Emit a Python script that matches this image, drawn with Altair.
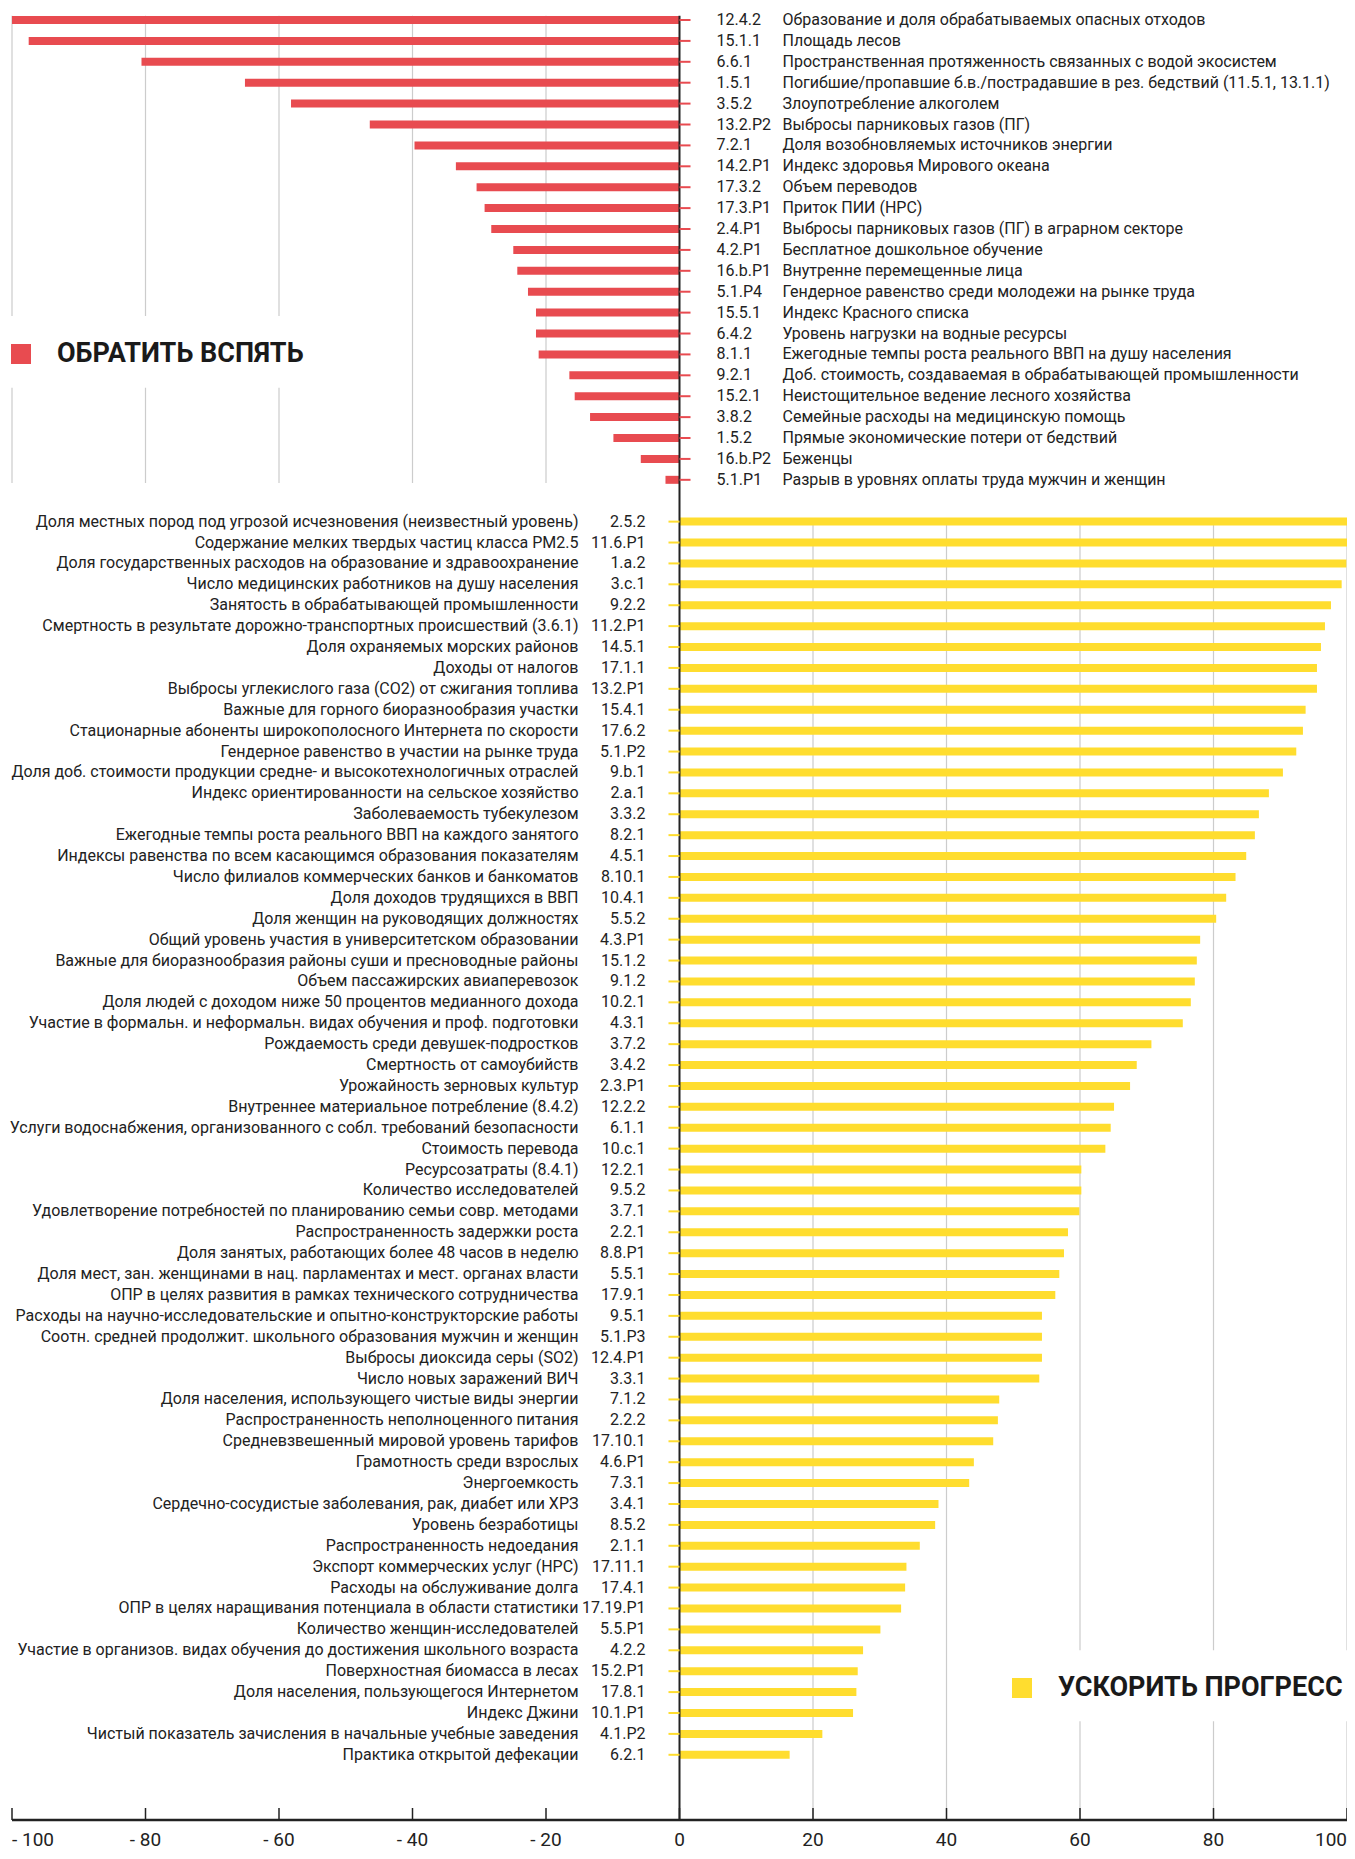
import altair as alt
import pandas as pd

RED = "#E84B50"
YELLOW = "#FFDD2F"
TEXT = "#222222"

top_codes = ["12.4.2", "15.1.1", "6.6.1", "1.5.1", "3.5.2", "13.2.P2", "7.2.1", "14.2.P1",
             "17.3.2", "17.3.P1", "2.4.P1", "4.2.P1", "16.b.P1", "5.1.P4", "15.5.1", "6.4.2",
             "8.1.1", "9.2.1", "15.2.1", "3.8.2", "1.5.2", "16.b.P2", "5.1.P1"]
top_names = [
    "Образование и доля обрабатываемых опасных отходов",
    "Площадь лесов",
    "Пространственная протяженность связанных с водой экосистем",
    "Погибшие/пропавшие б.в./пострадавшие в рез. бедствий (11.5.1, 13.1.1)",
    "Злоупотребление алкоголем",
    "Выбросы парниковых газов (ПГ)",
    "Доля возобновляемых источников энергии",
    "Индекс здоровья Мирового океана",
    "Объем переводов",
    "Приток ПИИ (НРС)",
    "Выбросы парниковых газов (ПГ) в аграрном секторе",
    "Бесплатное дошкольное обучение",
    "Внутренне перемещенные лица",
    "Гендерное равенство среди молодежи на рынке труда",
    "Индекс Красного списка",
    "Уровень нагрузки на водные ресурсы",
    "Ежегодные темпы роста реального ВВП на душу населения",
    "Доб. стоимость, создаваемая в обрабатывающей промышленности",
    "Неистощительное ведение лесного хозяйства",
    "Семейные расходы на медицинскую помощь",
    "Прямые экономические потери от бедствий",
    "Беженцы",
    "Разрыв в уровнях оплаты труда мужчин и женщин",
]
top_values = [-100, -97.5, -80.6, -65.1, -58.2, -46.4, -39.7, -33.5, -30.4, -29.2, -28.2,
              -24.9, -24.3, -22.7, -21.5, -21.5, -21.1, -16.5, -15.7, -13.4, -9.9, -5.8, -2.1]

bot_codes = ["2.5.2", "11.6.P1", "1.a.2", "3.c.1", "9.2.2", "11.2.P1", "14.5.1", "17.1.1",
             "13.2.P1", "15.4.1", "17.6.2", "5.1.P2", "9.b.1", "2.a.1", "3.3.2", "8.2.1",
             "4.5.1", "8.10.1", "10.4.1", "5.5.2", "4.3.P1", "15.1.2", "9.1.2", "10.2.1",
             "4.3.1", "3.7.2", "3.4.2", "2.3.P1", "12.2.2", "6.1.1", "10.c.1", "12.2.1",
             "9.5.2", "3.7.1", "2.2.1", "8.8.P1", "5.5.1", "17.9.1", "9.5.1", "5.1.P3",
             "12.4.P1", "3.3.1", "7.1.2", "2.2.2", "17.10.1", "4.6.P1", "7.3.1", "3.4.1",
             "8.5.2", "2.1.1", "17.11.1", "17.4.1", "17.19.P1", "5.5.P1", "4.2.2", "15.2.P1",
             "17.8.1", "10.1.P1", "4.1.P2", "6.2.1"]
bot_names = [
    "Доля местных пород под угрозой исчезновения (неизвестный уровень)",
    "Содержание мелких твердых частиц класса PM2.5",
    "Доля государственных расходов на образование и здравоохранение",
    "Число медицинских работников на душу населения",
    "Занятость в обрабатывающей промышленности",
    "Смертность в результате дорожно-транспортных происшествий (3.6.1)",
    "Доля охраняемых морских районов",
    "Доходы от налогов",
    "Выбросы углекислого газа (CO2) от сжигания топлива",
    "Важные для горного биоразнообразия участки",
    "Стационарные абоненты широкополосного Интернета по скорости",
    "Гендерное равенство в участии на рынке труда",
    "Доля доб. стоимости продукции средне- и высокотехнологичных отраслей",
    "Индекс ориентированности на сельское хозяйство",
    "Заболеваемость тубекулезом",
    "Ежегодные темпы роста реального ВВП на каждого занятого",
    "Индексы равенства по всем касающимся образования показателям",
    "Число филиалов коммерческих банков и банкоматов",
    "Доля доходов трудящихся в ВВП",
    "Доля женщин на руководящих должностях",
    "Общий уровень участия в университетском образовании",
    "Важные для биоразнообразия районы суши и пресноводные районы",
    "Объем пассажирских авиаперевозок",
    "Доля людей с доходом ниже 50 процентов медианного дохода",
    "Участие в формальн. и неформальн. видах обучения и проф. подготовки",
    "Рождаемость среди девушек-подростков",
    "Смертность от самоубийств",
    "Урожайность зерновых культур",
    "Внутреннее материальное потребление (8.4.2)",
    "Услуги водоснабжения, организованного с собл. требований безопасности",
    "Стоимость перевода",
    "Ресурсозатраты (8.4.1)",
    "Количество исследователей",
    "Удовлетворение потребностей по планированию семьи совр. методами",
    "Распространенность задержки роста",
    "Доля занятых, работающих более 48 часов в неделю",
    "Доля мест, зан. женщинами в нац. парламентах и мест. органах власти",
    "ОПР в целях развития в рамках технического сотрудничества",
    "Расходы на научно-исследовательские и опытно-конструкторские работы",
    "Соотн. средней продолжит. школьного образования мужчин и женщин",
    "Выбросы диоксида серы (SO2)",
    "Число новых заражений ВИЧ",
    "Доля населения, использующего чистые виды энергии",
    "Распространенность неполноценного питания",
    "Средневзвешенный мировой уровень тарифов",
    "Грамотность среди взрослых",
    "Энергоемкость",
    "Сердечно-сосудистые заболевания, рак, диабет или ХРЗ",
    "Уровень безработицы",
    "Распространенность недоедания",
    "Экспорт коммерческих услуг (НРС)",
    "Расходы на обслуживание долга",
    "ОПР в целях наращивания потенциала в области статистики",
    "Количество женщин-исследователей",
    "Участие в организов. видах обучения до достижения школьного возраста",
    "Поверхностная биомасса в лесах",
    "Доля населения, пользующегося Интернетом",
    "Индекс Джини",
    "Чистый показатель зачисления в начальные учебные заведения",
    "Практика открытой дефекации",
]
bot_values = [100, 100, 99.9, 99.2, 97.6, 96.7, 96.1, 95.5, 95.5, 93.8, 93.4, 92.4, 90.4, 88.3,
              86.8, 86.2, 84.9, 83.3, 81.9, 80.4, 78.0, 77.5, 77.2, 76.6, 75.4, 70.7, 68.5,
              67.5, 65.1, 64.6, 63.8, 60.2, 60.2, 59.9, 58.2, 57.6, 56.9, 56.3, 54.3, 54.3,
              54.3, 53.9, 47.9, 47.7, 47.0, 44.1, 43.4, 38.8, 38.3, 36.0, 34.0, 33.8, 33.2,
              30.1, 27.5, 26.7, 26.5, 26.0, 21.4, 16.5]

legend_labels = ["ОБРАТИТЬ ВСПЯТЬ", "УСКОРИТЬ ПРОГРЕСС"]
axis_ticks = [-100, -80, -60, -40, -20, 0, 20, 40, 60, 80, 100]
grid_neg = [-100, -80, -60, -40, -20]
grid_pos = [20, 40, 60, 80, 100]

n_top = len(top_codes)
rows = []
for i, (c, n, v) in enumerate(zip(top_codes, top_names, top_values)):
    rows.append({"row": i, "code": c, "name": n, "value": v, "group": "rev"})
for j, (c, n, v) in enumerate(zip(bot_codes, bot_names, bot_values)):
    rows.append({"row": n_top + 1 + j, "code": c, "name": n, "value": v, "group": "acc"})
df = pd.DataFrame(rows)

W, H = 1335, 1812
Y_MIN, Y_MAX = -0.574, 86.12

grid_rows = ([{"gx": g, "gy1": -0.2, "gy2": n_top - 1 + 0.15} for g in grid_neg] +
             [{"gx": g, "gy1": n_top + 1, "gy2": Y_MAX} for g in grid_pos])
grid_df = pd.DataFrame(grid_rows)
ticks_df = pd.DataFrame({
    "t": axis_ticks,
    "lab": [("- " + str(-t)) if t < 0 else str(t) for t in axis_ticks],
})
one = pd.DataFrame({"a": [0]})

xs = alt.Scale(domain=[-100, 100], nice=False, zero=False, padding=0)
ys = alt.Scale(domain=[Y_MIN, Y_MAX], reverse=True, nice=False, zero=False, padding=0)

grid = alt.Chart(grid_df).mark_rule(color="#cccccc", strokeWidth=1.2).encode(
    x=alt.X("gx:Q", scale=xs, axis=None),
    y=alt.Y("gy1:Q", scale=ys, axis=None),
    y2="gy2:Q",
)

masks = alt.Chart(one).mark_rect(color="white").encode(
    x=alt.XDatum(-101, axis=None), x2=alt.X2Datum(-50),
    y=alt.YDatum(14.16, axis=None), y2=alt.Y2Datum(17.6),
) + alt.Chart(one).mark_rect(color="white").encode(
    x=alt.XDatum(50, axis=None), x2=alt.X2Datum(101),
    y=alt.YDatum(78.0, axis=None), y2=alt.Y2Datum(81.4),
)

bars = alt.Chart(df).mark_bar(orient="horizontal", size=8).encode(
    x=alt.X("value:Q", scale=xs, axis=None),
    x2=alt.X2Datum(0),
    y=alt.Y("row:Q", scale=ys, axis=None),
    color=alt.Color("group:N", scale=alt.Scale(domain=["rev", "acc"], range=[RED, YELLOW]),
                    legend=None),
)

tick_top = alt.Chart(df).transform_filter("datum.group == 'rev'").mark_rule(
    color=RED, strokeWidth=2).encode(
    x=alt.XDatum(0, axis=None), x2=alt.X2Datum(1.65), y=alt.Y("row:Q", scale=ys, axis=None))
tick_bot = alt.Chart(df).transform_filter("datum.group == 'acc'").mark_rule(
    color=YELLOW, strokeWidth=2).encode(
    x=alt.XDatum(-1.65, axis=None), x2=alt.X2Datum(0), y=alt.Y("row:Q", scale=ys, axis=None))

zero_line = alt.Chart(one).mark_rule(color=TEXT, strokeWidth=2).encode(
    x=alt.XDatum(0, axis=None), y=alt.YDatum(-0.2, axis=None), y2=alt.value(H))

base_line = alt.Chart(one).mark_rule(color=TEXT, strokeWidth=2.5).encode(
    x=alt.XDatum(-100, axis=None), x2=alt.X2Datum(100), y=alt.value(H))

axis_ticks_layer = alt.Chart(ticks_df).mark_rule(color=TEXT, strokeWidth=1.5).encode(
    x=alt.X("t:Q", scale=xs, axis=None), y=alt.value(H - 12), y2=alt.value(H))

LAB_Y = H + 20
lab_style = dict(font="Roboto", fontSize=19, color=TEXT, baseline="middle")
lab_first = alt.Chart(ticks_df).transform_filter("datum.t == -100").mark_text(
    align="left", **lab_style).encode(
    x=alt.X("t:Q", scale=xs, axis=None), y=alt.value(LAB_Y), text="lab:N")
lab_mid = alt.Chart(ticks_df).transform_filter("datum.t > -100 && datum.t < 100").mark_text(
    align="center", **lab_style).encode(
    x=alt.X("t:Q", scale=xs, axis=None), y=alt.value(LAB_Y), text="lab:N")
lab_last = alt.Chart(ticks_df).transform_filter("datum.t == 100").mark_text(
    align="right", **lab_style).encode(
    x=alt.X("t:Q", scale=xs, axis=None), y=alt.value(LAB_Y), text="lab:N")

txt = dict(font="Roboto", fontSize=16, color=TEXT, baseline="middle")
top_code = alt.Chart(df).transform_filter("datum.group == 'rev'").mark_text(
    align="left", dx=37, **txt).encode(
    x=alt.XDatum(0, axis=None), y=alt.Y("row:Q", scale=ys, axis=None), text="code:N")
top_name = alt.Chart(df).transform_filter("datum.group == 'rev'").mark_text(
    align="left", dx=103, **txt).encode(
    x=alt.XDatum(0, axis=None), y=alt.Y("row:Q", scale=ys, axis=None), text="name:N")
bot_code = alt.Chart(df).transform_filter("datum.group == 'acc'").mark_text(
    align="right", dx=-34, **txt).encode(
    x=alt.XDatum(0, axis=None), y=alt.Y("row:Q", scale=ys, axis=None), text="code:N")
bot_name = alt.Chart(df).transform_filter("datum.group == 'acc'").mark_text(
    align="right", dx=-101, **txt).encode(
    x=alt.XDatum(0, axis=None), y=alt.Y("row:Q", scale=ys, axis=None), text="name:N")

leg_df = pd.DataFrame({"label": legend_labels, "group": ["rev", "acc"],
                       "lx": [9, 1010], "ly": [346, 1680], "tx": [45, 1046]})
leg_sq = alt.Chart(leg_df).mark_square(size=400, opacity=1).encode(
    x=alt.X("lx:Q", scale=None, axis=None), y=alt.Y("ly:Q", scale=None, axis=None),
    color=alt.Color("group:N", scale=alt.Scale(domain=["rev", "acc"], range=[RED, YELLOW]),
                    legend=None))
leg_txt = alt.Chart(leg_df).mark_text(align="left", baseline="middle", font="Roboto",
                                      fontSize=27, fontWeight="bold", color="#1a1a1a").encode(
    x=alt.X("tx:Q", scale=None, axis=None), y=alt.Y("ly:Q", scale=None, axis=None),
    text="label:N")

chart = alt.layer(
    grid, masks, bars, zero_line, tick_top, tick_bot, base_line, axis_ticks_layer,
    lab_first, lab_mid, lab_last,
    top_code, top_name, bot_code, bot_name, leg_sq, leg_txt,
).properties(
    width=W, height=H,
    autosize=alt.AutoSizeParams(type="none"),
    padding={"left": 4, "top": 0, "right": 0, "bottom": 31},
    background="white",
).configure_view(stroke=None)

chart.save("out.html", embed_options={"renderer": "svg", "actions": False})
